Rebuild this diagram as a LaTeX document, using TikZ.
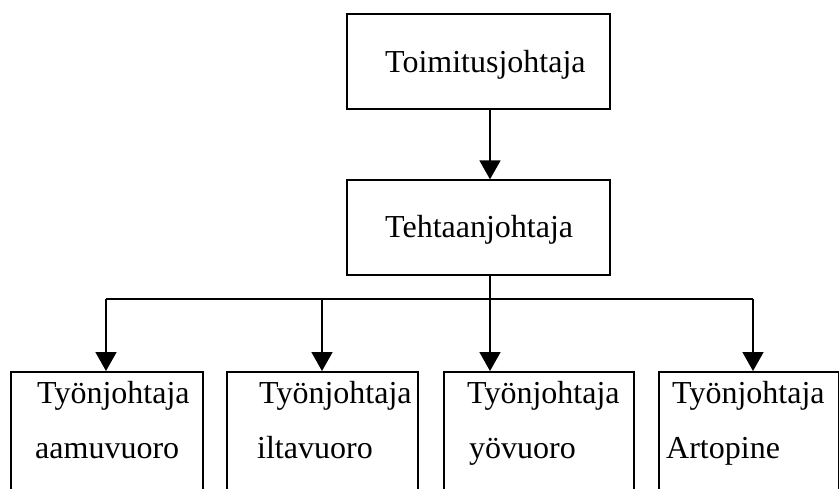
\documentclass[tikz,border=0pt]{standalone}
\usepackage{fontspec}
\setmainfont{Liberation Serif}
\usetikzlibrary{arrows.meta}
\begin{document}
\begin{tikzpicture}[x=1pt,y=-1pt,
  box/.style={draw=black,line width=1.8pt,anchor=north west,inner sep=0pt},
  lbl/.style={anchor=base west,inner sep=0pt,font=\fontsize{32}{37}\selectfont},
  wire/.style={line width=1.8pt},
  arr/.style={line width=1.8pt,-{Triangle[width=21pt,length=19pt]}}]
\useasboundingbox (0,0) rectangle (839,488);
\clip (0,0) rectangle (839,488);

% boxes
\node[box,minimum width=263pt,minimum height=95pt] (ceo) at (346,12.7) {};
\node[box,minimum width=263pt,minimum height=95pt] (mgr) at (346,179.3) {};
\node[box,minimum width=192pt,minimum height=150pt] (b1) at (10,371) {};
\node[box,minimum width=191pt,minimum height=150pt] (b2) at (226,371) {};
\node[box,minimum width=190pt,minimum height=150pt] (b3) at (443,371) {};
\node[box,minimum width=180pt,minimum height=150pt] (b4) at (658,371) {};

% texts
\node[lbl] (tceo) at (385,72) {Toimitusjohtaja};
\node[lbl] (tmgr) at (385,237.5) {Tehtaanjohtaja};
\node[lbl] (t1a) at (37,403) {Työnjohtaja};
\node[lbl] (t1b) at (35,458) {aamuvuoro};
\node[lbl] (t2a) at (259,403) {Työnjohtaja};
\node[lbl] (t2b) at (257,458) {iltavuoro};
\node[lbl] (t3a) at (467,403) {Työnjohtaja};
\node[lbl] (t3b) at (469,458) {yövuoro};
\node[lbl] (t4a) at (672,403) {Työnjohtaja};
\node[lbl] (t4b) at (666,458) {Artopine};

% connector points on the distribution bar
\coordinate (a1) at (106,299);
\coordinate (a2) at (322,299);
\coordinate (a3) at (490,299);
\coordinate (a4) at (753,299);

% connectors
\draw[arr] (ceo.south -| a3) -- (mgr.north -| a3);
\draw[wire] (mgr.south -| a3) -- (a3);
\draw[wire] (a1) -- (a4);
\draw[arr] (a1) -- (b1.north -| a1);
\draw[arr] (a2) -- (b2.north -| a2);
\draw[arr] (a3) -- (b3.north -| a3);
\draw[arr] (a4) -- (b4.north -| a4);
\end{tikzpicture}
\end{document}
